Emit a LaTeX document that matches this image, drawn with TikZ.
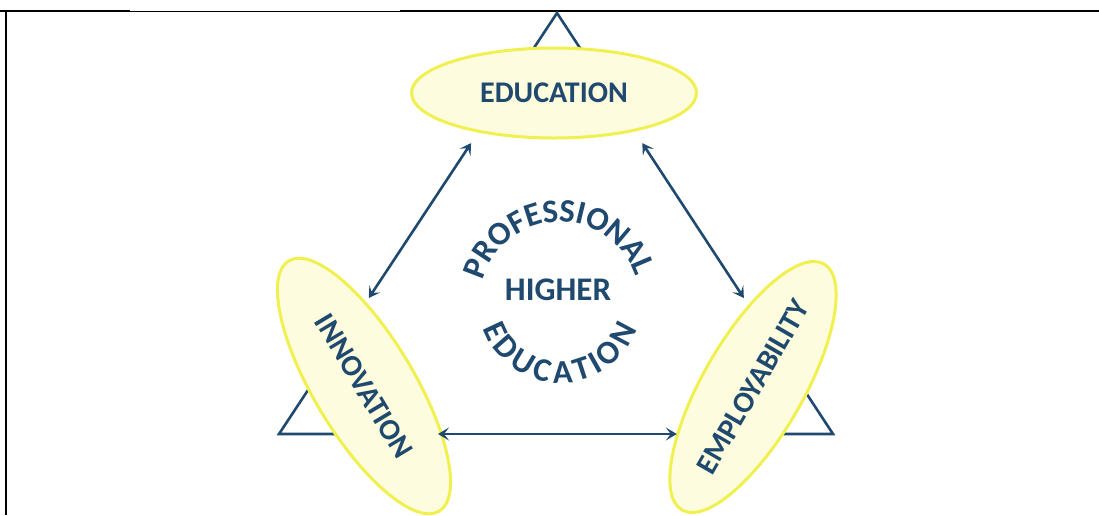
\documentclass[tikz,border=0pt]{standalone}
\usepackage{fontspec}
\setmainfont{Carlito}
\usetikzlibrary{shapes.geometric,calc,arrows.meta}
\definecolor{inkblue}{RGB}{31,73,110}
\definecolor{rimyellow}{RGB}{240,240,80}
\definecolor{paleyellow}{RGB}{253,252,222}

\begin{document}
\begin{tikzpicture}[x = 1pt, y = 1pt, >= {Stealth[length = 11pt, width = 13pt, inset = 5pt]},
        bubble/.style = {ellipse, draw = rimyellow, line width = 3pt, fill = paleyellow, inner sep = 0pt, text = inkblue, font = \fontsize{30}{30}\selectfont\bfseries},
        link/.style = {<->, draw = inkblue, line width = 2.6pt},
        corner/.style = {draw = inkblue, line width = 2.6pt, line join = miter},
        letter/.style = {text = inkblue, inner sep = 0pt, font = \fontsize{33}{33}\selectfont\bfseries}]
        \useasboundingbox (0, 0) rectangle (1099, -515);
        \draw[line width = 2.5pt](0, -11) -- (130, -11);
        \draw[line width = 1pt](130, -11) -- (400, -11);
        \draw[line width = 2.5pt](400, -11) -- (1099, -11);
        \draw[line width = 2.5pt](6, -10) -- (6, -515);
        \coordinate (top) at (557, -13);
        \coordinate (left) at (279, -434);
        \coordinate (right) at (833, -434);
        \coordinate (mid) at (560, -301);
        \draw[corner] ($(top)!0.1!(left)$) -- (top) -- ($(top)!0.1!(right)$);
        \draw[corner] ($(left)!0.13!(top)$) -- (left) -- ($(left)!0.12!(right)$);
        \draw[corner] ($(right)!0.13!(top)$) -- (right) -- ($(right)!0.12!(left)$);
        \node[bubble, minimum width = 285pt, minimum height = 90pt] (edu) at (554, -93) {EDUCATION};
        \node[bubble, rotate = -59, minimum width = 292pt, minimum height = 100pt] (inno) at (364, -386) {INNOVATION};
        \node[bubble, rotate = 60, minimum width = 284pt, minimum height = 100pt] (empl) at (753, -387) {EMPLOYABILITY};
        \draw[link] ($(top)!0.309!(left)$) -- ($(top)!0.677!(left)$);
        \draw[link] ($(top)!0.309!(right)$) -- ($(top)!0.677!(right)$);
        \draw[link] ($(left)!0.287!(right)$) -- ($(left)!0.718!(right)$);
        \node[letter] (higher) at (558, -290) {HIGHER};
        \foreach \ch/\ang [count = \i] in {P/159,R/146.3,O/132,F/118.8,E/107.5,S/96.3,S/85.3,I/76.4,O/65.1,N/49.8,A/35.2,L/23.1}
          \node[letter, rotate = \ang - 90] (pro\i) at ($(mid) + (\ang:90)$) {\ch};
        \foreach \ch/\ang [count = \i] in {E/205,D/221,U/239.1,C/255.9,A/272.2,T/288.1,I/299.4,O/313.1,N/332}
          \node[letter, rotate = \ang + 90] (edu\i) at ($(mid) + (\ang:71)$) {\ch};
      \end{tikzpicture}
\end{document}
